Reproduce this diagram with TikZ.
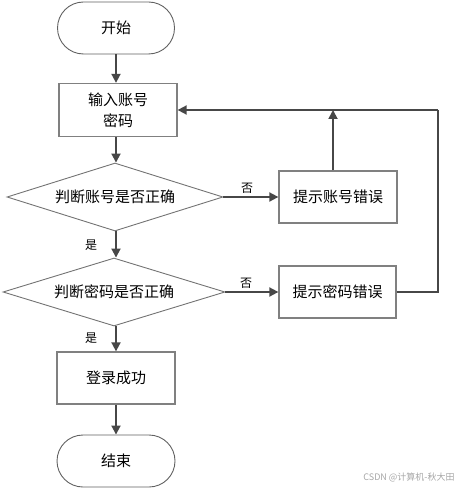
\documentclass[tikz,border=0pt]{standalone}
\usepackage{fontspec}
\setmainfont{Noto Sans CJK SC}
\usetikzlibrary{arrows.meta,shapes.geometric}
\begin{document}
\begin{tikzpicture}[x=1pt,y=1pt,
  term/.style={draw=black!62,line width=0.9pt,rounded corners=26pt,minimum width=117pt,minimum height=52pt,inner sep=0pt,font=\fontsize{15}{18}\selectfont},
  proc/.style={draw=black!50,line width=1.3pt,minimum width=118pt,minimum height=52pt,inner sep=0pt,align=center,font=\fontsize{15}{21}\selectfont},
  dec/.style={draw=black!55,line width=0.9pt,diamond,aspect=3.2,minimum width=216pt,minimum height=68pt,inner sep=0pt,font=\fontsize{15}{18}\selectfont},
  flow/.style={draw=black!72,line width=1.8pt,-{Triangle[length=9pt,width=9pt]}},
  link/.style={draw=black!72,line width=1.8pt},
  lbl/.style={font=\fontsize{12}{14}\selectfont,inner sep=0pt}]
\useasboundingbox (0,0) rectangle (462,-489);
\node[term] (start) at (116,-28) {开始};
\node[proc,minimum height=53pt] (input) at (118,-110) {输入账号\\密码};
\node[dec] (d1) at (115,-197) {判断账号是否正确};
\node[proc] (err1) at (338,-197) {提示账号错误};
\node[dec,minimum width=222pt] (d2) at (114,-292) {判断密码是否正确};
\node[proc,minimum width=117pt] (err2) at (337.5,-292) {提示密码错误};
\node[proc] (ok) at (116,-378) {登录成功};
\node[term,minimum width=118pt] (end) at (116,-461) {结束};
\coordinate (j) at (333,-110);
\coordinate (c1) at (438,-110);
\draw[flow] (start.south -| 116,0) -- (input.north -| 116,0);
\draw[flow] (input.south -| 116,0) -- (d1.north -| 116,0);
\draw[flow] (d1.east) -- (err1.west);
\draw[flow] (d1.south -| 116,0) -- (d2.north -| 116,0);
\draw[flow] (d2.east) -- (err2.west);
\draw[flow] (d2.south -| 116,0) -- (ok.north -| 116,0);
\draw[flow] (ok.south -| 116,0) -- (end.north -| 116,0);
\draw[flow] (err1.north -| j) -- (j);
\draw[link] (err2.east) -| (c1);
\draw[flow] (c1) -- (input.east);
\node[lbl] (n1) at (247,-188) {否};
\node[lbl] (n2) at (246,-283) {否};
\node[lbl] (y1) at (91,-245) {是};
\node[lbl] (y2) at (91,-338) {是};
\node[font=\fontsize{9}{11}\selectfont,text=black!35,inner sep=0pt] (wm) at (409,-477) {CSDN @计算机-秋大田};
\end{tikzpicture}
\end{document}
